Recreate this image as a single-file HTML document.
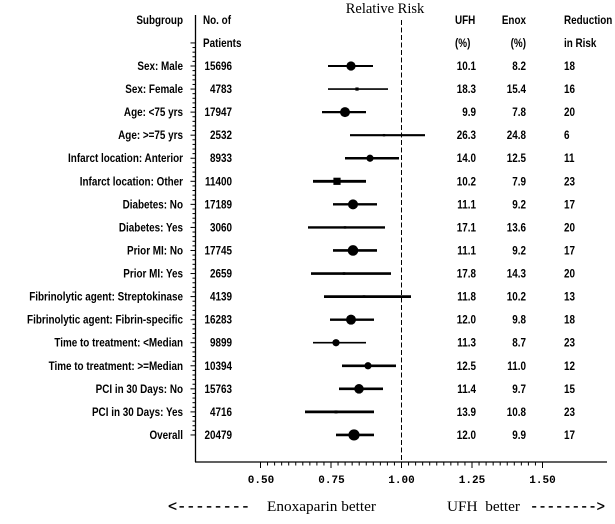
<!DOCTYPE html>
<html><head><meta charset="utf-8"><style>
html,body{margin:0;padding:0;background:#fff;}
svg{display:block;}
.t{font-family:"Liberation Sans",sans-serif;font-weight:bold;font-size:11.5px;fill:#000;}
.m{font-family:"Liberation Mono",monospace;font-weight:bold;font-size:11px;fill:#000;}
.s{font-family:"Liberation Serif",serif;font-size:14.5px;fill:#000;}
</style></head><body>
<svg width="615" height="524" viewBox="0 0 615 524" xmlns="http://www.w3.org/2000/svg">
<rect width="615" height="524" fill="#fff"/>
<line x1="195.5" y1="15" x2="195.5" y2="462" stroke="#000" stroke-width="1.3"/>
<line x1="195" y1="462" x2="607" y2="462" stroke="#000" stroke-width="1.3"/>
<line x1="401.5" y1="20" x2="401.5" y2="462" stroke="#000" stroke-width="1" stroke-dasharray="5,2.5"/>
<g id="yticks" stroke="#000" stroke-width="1"></g>
<g id="xticks" stroke="#000" stroke-width="1"></g>
<text class="m" x="261" y="483" text-anchor="middle">0.50</text>
<text class="m" x="331.5" y="483" text-anchor="middle">0.75</text>
<text class="m" x="401.5" y="483" text-anchor="middle">1.00</text>
<text class="m" x="472" y="483" text-anchor="middle">1.25</text>
<text class="m" x="542.5" y="483" text-anchor="middle">1.50</text>
<text class="s" x="385" y="13" text-anchor="middle" style="font-size:14.5px">Relative Risk</text>
<text x="168" y="511" style="font-family:'Liberation Mono',monospace;font-size:15px;stroke:#000;stroke-width:0.3" textLength="82" lengthAdjust="spacingAndGlyphs">&lt;--------</text>
<text class="s" x="267" y="511" textLength="109" lengthAdjust="spacingAndGlyphs">Enoxaparin better</text>
<text class="s" x="447" y="511" textLength="73" lengthAdjust="spacingAndGlyphs" xml:space="preserve">UFH  better</text>
<text x="530" y="511" style="font-family:'Liberation Mono',monospace;font-size:15px;stroke:#000;stroke-width:0.3" textLength="75" lengthAdjust="spacingAndGlyphs">--------&gt;</text>
<g id="rows"></g>
</svg>
<script>
var NS="http://www.w3.org/2000/svg";
function el(p,tag,attrs,txt){var e=document.createElementNS(NS,tag);for(var k in attrs)e.setAttribute(k,attrs[k]);if(txt!==undefined)e.textContent=txt;p.appendChild(e);return e;}
var yt=document.getElementById('yticks');
function ry(i){return 66+(i-2)*23.06;}
for(var i=1;i<=18;i++){var y=ry(i);el(yt,'line',{x1:190.5,x2:195.5,y1:y,y2:y});
 if(i<18){for(var k=1;k<5;k++){var yy=y+k*23.06/5;el(yt,'line',{x1:192.5,x2:195.5,y1:yy,y2:yy});}}}
var xt=document.getElementById('xticks');
function xv(v){return 401.5+(v-1)*282;}
for(var j=0;j<=40;j++){var v=0.5+j*0.025;var x=xv(v);var maj=(j%10==0);el(xt,'line',{x1:x,x2:x,y1:462,y2:maj?468:465.5});}
var rows=document.getElementById('rows');
function txt(x,y,s,anchor,sx){var g=el(rows,'g',{transform:'translate('+x+','+y+') scale('+(sx||0.86)+',1)'});el(g,'text',{'class':'t',x:0,y:0,'text-anchor':anchor},s);}
txt(183,24,'Subgroup','end');
txt(203,24,'No. of','start');
txt(203,47,'Patients','start');
txt(455,24,'UFH','start');
txt(455,47,'(%)','start');
txt(526,24,'Enox','end');
txt(526,47,'(%)','end');
txt(564,24,'Reduction','start');
txt(564,47,'in Risk','start');
var data=[
['Sex: Male','15696','10.1','8.2','18',328,373,351,4.6,'c',2],
['Sex: Female','4783','18.3','15.4','16',328,388,357,1.6,'s',1.6],
['Age: <75 yrs','17947','9.9','7.8','20',322,366,345,5,'c',2.2],
['Age: >=75 yrs','2532','26.3','24.8','6',350,425,384,1.2,'s',2.2],
['Infarct location: Anterior','8933','14.0','12.5','11',345,399,370,3.6,'c',2.6],
['Infarct location: Other','11400','10.2','7.9','23',313,366,337,3.6,'q',2.8],
['Diabetes: No','17189','11.1','9.2','17',333,377,353,5,'c',2.4],
['Diabetes: Yes','3060','17.1','13.6','20',308,385,345,1.2,'s',2.4],
['Prior MI: No','17745','11.1','9.2','17',333,377,353,5.3,'c',2.6],
['Prior MI: Yes','2659','17.8','14.3','20',311,391,344,1.3,'s',2.6],
['Fibrinolytic agent: Streptokinase','4139','11.8','10.2','13',324,411,364,1.3,'s',2.8],
['Fibrinolytic agent: Fibrin-specific','16283','12.0','9.8','18',330,374,351,5,'c',2.4],
['Time to treatment: <Median','9899','11.3','8.7','23',313,366,336,3.6,'c',1.6],
['Time to treatment: >=Median','10394','12.5','11.0','12',342,396,368,3.6,'c',2.6],
['PCI in 30 Days: No','15763','11.4','9.7','15',339,383,359,4.8,'c',2.6],
['PCI in 30 Days: Yes','4716','13.9','10.8','23',305,374,336,1.5,'s',2.8],
['Overall','20479','12.0','9.9','17',336,374,354,5.6,'c',2.6]
];
for(var r=0;r<data.length;r++){var d=data[r];var y=ry(r+2);var by=y+4;
 txt(183,by,d[0],'end');txt(232,by,d[1],'end');txt(476,by,d[2],'end');txt(526,by,d[3],'end');txt(564,by,d[4],'start');
 el(rows,'line',{x1:d[5],x2:d[6],y1:y,y2:y,stroke:'#000','stroke-width':d[10]});
 if(d[9]=='c'){el(rows,'circle',{cx:d[7],cy:y,r:d[8],fill:'#000'});}
 else {el(rows,'rect',{x:d[7]-d[8],y:y-d[8],width:2*d[8],height:2*d[8],fill:'#000'});}
}
</script>
</body></html>
